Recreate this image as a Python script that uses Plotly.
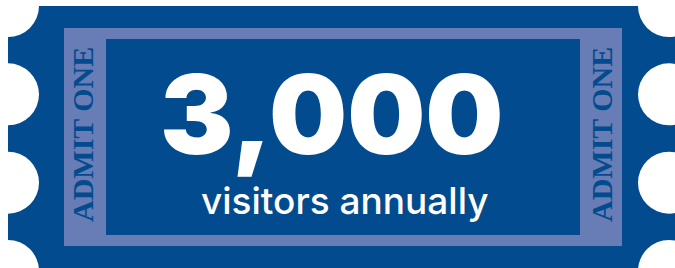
import plotly.graph_objects as go

# ---- content ----
headline_value = ["3,000"]
headline_label = ["visitors annually"]
stub_labels = ["ADMIT ONE", "ADMIT ONE"]

W, H = 675, 268
DARK = "#024b8f"
LIGHT = "#687db5"

fig = go.Figure()

shapes = []
# ticket body
shapes.append(dict(type="rect", x0=8, x1=690, y0=6, y1=290, fillcolor=DARK, line_width=0, layer="below"))
# notches (white circles) on both sides
r = 31
for cy in [6, 94.3, 182.7, 271]:
    for cx in [8, 669]:
        shapes.append(dict(type="circle", x0=cx - r, x1=cx + r, y0=cy - r, y1=cy + r,
                           fillcolor="white", line_width=0, layer="below"))
# light frame
shapes.append(dict(type="rect", x0=64, x1=622, y0=28, y1=246, fillcolor=LIGHT, line_width=0, layer="below"))
# inner dark panel
shapes.append(dict(type="rect", x0=106, x1=580, y0=39, y1=235, fillcolor=DARK, line_width=0, layer="below"))

fig.update_layout(shapes=shapes)

annotations = [
    dict(x=332, y=114, text=headline_value[0], showarrow=False, xanchor="center", yanchor="middle",
         font=dict(family="Inter, Roboto, sans-serif", size=110, color="white", weight=900)),
    dict(x=345, y=200, text=headline_label[0], showarrow=False, xanchor="center", yanchor="middle",
         font=dict(family="Inter, Roboto, sans-serif", size=37, color="white", weight=500)),
    dict(x=82, y=135, text=stub_labels[0], showarrow=False, textangle=-90, xanchor="center", yanchor="middle",
         font=dict(family="Liberation Serif, Times New Roman, serif", size=30, color=DARK, weight=700)),
    dict(x=601, y=135, text=stub_labels[1], showarrow=False, textangle=-90, xanchor="center", yanchor="middle",
         font=dict(family="Liberation Serif, Times New Roman, serif", size=30, color=DARK, weight=700)),
]
fig.update_layout(annotations=annotations)

fig.update_layout(
    width=W, height=H,
    margin=dict(l=0, r=0, t=0, b=0),
    paper_bgcolor="white", plot_bgcolor="white",
    xaxis=dict(range=[0, W], visible=False, fixedrange=True),
    yaxis=dict(range=[H, 0], visible=False, fixedrange=True),
    showlegend=False,
)

fig.write_html("out.html", config={"displayModeBar": False},
               post_script="document.body.style.margin='0';document.body.style.overflow='hidden';")
